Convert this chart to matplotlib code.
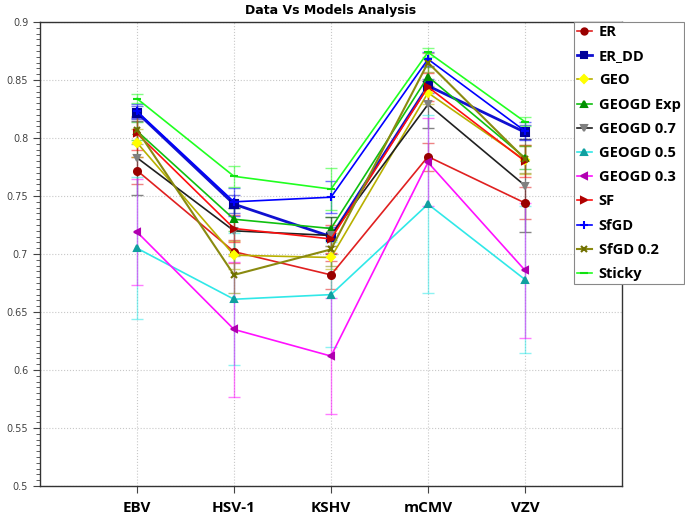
import numpy as np
import matplotlib.pyplot as plt
from matplotlib.ticker import MultipleLocator

# categories and per-model values
viruses = ["EBV", "HSV-1", "KSHV", "mCMV", "VZV"]

er = [0.772, 0.702, 0.682, 0.784, 0.744]
er_dd = [0.822, 0.743, 0.715, 0.845, 0.805]
geo = [0.796, 0.699, 0.697, 0.839, 0.781]
geogd_exp = [0.806, 0.730, 0.722, 0.853, 0.783]
geogd_07 = [0.783, 0.720, 0.716, 0.829, 0.759]
geogd_05 = [0.705, 0.661, 0.665, 0.743, 0.678]
geogd_03 = [0.719, 0.635, 0.612, 0.779, 0.686]
sf = [0.804, 0.722, 0.713, 0.844, 0.780]
sfgd = [0.823, 0.745, 0.749, 0.868, 0.806]
sfgd_02 = [0.807, 0.682, 0.704, 0.865, 0.782]
sticky = [0.834, 0.767, 0.756, 0.874, 0.814]

# error bar half-widths
er_err = [0.012, 0.010, 0.012, 0.012, 0.014]
er_dd_err = [0.006, 0.008, 0.008, 0.006, 0.006]
geo_err = [0.012, 0.012, 0.010, 0.010, 0.012]
geogd_exp_err = [0.008, 0.010, 0.010, 0.008, 0.010]
geogd_07_err = [0.032, 0.020, 0.016, 0.020, 0.040]
geogd_05_err = [0.061, 0.057, 0.045, 0.077, 0.063]
geogd_03_err = [0.046, 0.058, 0.050, 0.038, 0.058]
sf_err = [0.014, 0.012, 0.012, 0.012, 0.014]
sfgd_err = [0.006, 0.012, 0.014, 0.006, 0.008]
sfgd_02_err = [0.012, 0.016, 0.014, 0.008, 0.012]
sticky_err = [0.004, 0.009, 0.018, 0.004, 0.004]

series = [
    ("ER", er, er_err, "#e02020", "o", "#990000", 1.2, 5),
    ("ER_DD", er_dd, er_dd_err, "#1010d0", "s", "#000099", 2.0, 5.5),
    ("GEO", geo, geo_err, "#b8b000", "D", "#ffff00", 1.2, 4),
    ("GEOGD Exp", geogd_exp, geogd_exp_err, "#10c010", "^", "#009000", 1.2, 4.5),
    ("GEOGD 0.7", geogd_07, geogd_07_err, "#202020", "v", "#808080", 1.2, 5),
    ("GEOGD 0.5", geogd_05, geogd_05_err, "#30e8e8", "^", "#10a0a0", 1.2, 4.5),
    ("GEOGD 0.3", geogd_03, geogd_03_err, "#ff10ff", "<", "#b000b0", 1.2, 4.5),
    ("SF", sf, sf_err, "#ff1010", ">", "#b00000", 1.2, 4.5),
    ("SfGD", sfgd, sfgd_err, "#0000ff", "+", "#0000ff", 1.2, 6),
    ("SfGD 0.2", sfgd_02, sfgd_02_err, "#8a8a10", "x", "#707000", 1.5, 5),
    ("Sticky", sticky, sticky_err, "#20ff20", "_", "#10e010", 1.2, 6),
]

x = np.arange(1, len(viruses) + 1)

fig = plt.figure(figsize=(6.85, 5.14), dpi=100)
ax = fig.add_axes([0.0584, 0.0545, 0.8496, 0.9026])

# error bars behind the lines
for name, vals, err, col, mk, mcol, lw, ms in series:
    ax.errorbar(x, vals, yerr=err, fmt="none", ecolor=col, elinewidth=1.0,
                capsize=4, alpha=0.55, zorder=2)

for name, vals, err, col, mk, mcol, lw, ms in series:
    ax.plot(x, vals, color=col, lw=lw, marker=mk, markersize=ms,
            markerfacecolor=mcol, markeredgecolor=mcol, markeredgewidth=1.5,
            label=name, zorder=3)

ax.set_xlim(0, 6)
ax.set_ylim(0.5, 0.9)
ax.set_xticks(x)
ax.set_xticklabels(viruses, fontsize=11, fontweight="bold", family="Open Sans")
ax.yaxis.set_minor_locator(MultipleLocator(0.005))
ax.set_yticks(np.arange(0.5, 0.901, 0.05))
ax.set_yticklabels(["0.5", "0.55", "0.6", "0.65", "0.7", "0.75", "0.8", "0.85", "0.9"],
                   fontsize=7, color="#444444")
ax.tick_params(axis="y", which="major", length=5, color="#444444")
ax.tick_params(axis="y", which="minor", length=3, color="#444444")
ax.tick_params(axis="x", length=5, color="#444444", pad=6)
ax.grid(True, which="major", linestyle=":", color="#c8c8c8", linewidth=0.8)
ax.set_axisbelow(True)
for s in ax.spines.values():
    s.set_color("#333333")
    s.set_linewidth(1.0)

ax.set_title("Data Vs Models Analysis", fontsize=9, fontweight="bold", pad=6)

leg = fig.legend(loc="upper right", bbox_to_anchor=(0.998, 0.957), frameon=True,
                 fancybox=False, edgecolor="#888888", framealpha=1,
                 prop={"family": "Open Sans", "weight": "bold", "size": 10.5},
                 handlelength=1.0, handletextpad=0.5, labelspacing=0.7,
                 borderpad=0.2, borderaxespad=0, markerscale=0.9)
leg.get_frame().set_linewidth(0.8)

fig.savefig("out.png", dpi=100)
